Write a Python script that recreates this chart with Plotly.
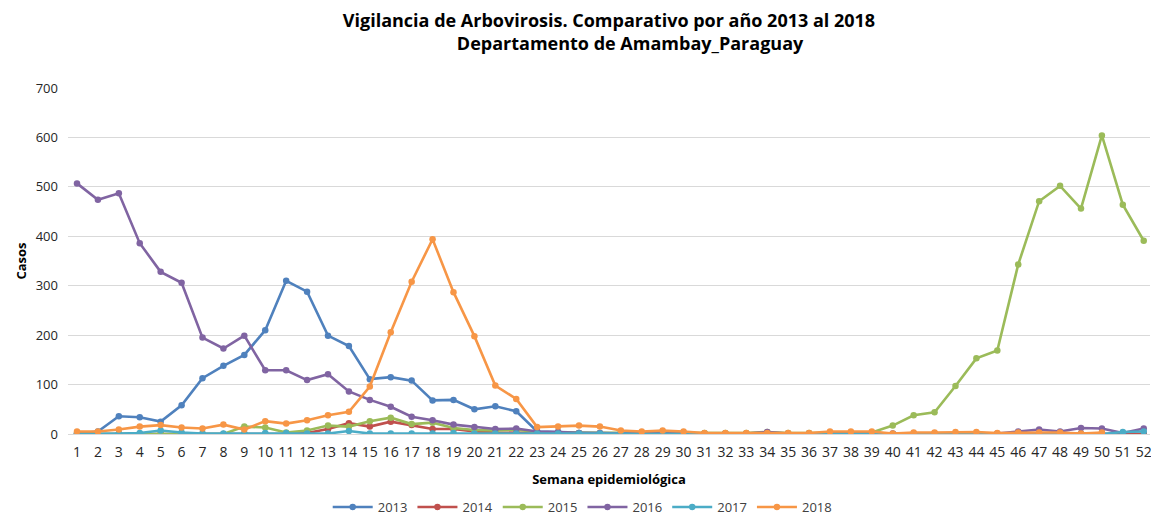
import plotly.graph_objects as go

weeks = list(range(1, 53))

s2013 = [1, 5, 36, 34, 25, 58, 113, 138, 160, 210, 310, 288, 199, 178, 111, 115, 108, 68, 69, 50,
         56, 46, 5, 4, 2, 1, 0, 0, 0, 0, 0, 0, 0, 0, 0, 0, 0, 0, 0, 0,
         0, 0, 0, 0, 0, 0, 0, 0, 0, 0, 0, 0]
s2014 = [0, 0, 0, 0, 0, 0, 0, 0, 0, 0, 0, 2, 10, 22, 15, 25, 18, 10, 10, 5,
         3, 3, 2, 1, 1, 1, 0, 0, 0, 0, 0, 0, 0, 0, 0, 0, 0, 0, 0, 0,
         0, 0, 0, 0, 0, 0, 0, 0, 0, 0, 0, 0]
s2015 = [0, 0, 0, 0, 0, 0, 0, 0, 15, 13, 3, 7, 17, 15, 26, 33, 20, 23, 12, 8,
         7, 9, 3, 3, 2, 2, 2, 2, 2, 2, 2, 2, 2, 4, 2, 2, 3, 3, 3, 17,
         38, 44, 97, 153, 169, 343, 471, 502, 456, 604, 464, 391]
s2016 = [507, 474, 487, 386, 328, 306, 195, 173, 199, 129, 129, 109, 121, 86, 69, 55, 35, 28, 19, 14,
         10, 11, 5, 4, 2, 2, 1, 1, 1, 1, 1, 1, 1, 4, 1, 1, 1, 1, 1, 1,
         1, 1, 1, 1, 1, 5, 9, 5, 12, 11, 2, 11]
s2017 = [0, 0, 1, 2, 7, 3, 1, 1, 1, 2, 2, 1, 1, 6, 1, 1, 1, 1, 2, 1,
         1, 1, 1, 1, 1, 1, 1, 0, 0, 0, 0, 0, 0, 0, 0, 0, 0, 0, 0, 0,
         0, 0, 0, 0, 0, 0, 0, 0, 0, 0, 4, 5]
s2018 = [5, 5, 9, 15, 18, 13, 11, 19, 9, 26, 21, 28, 38, 45, 96, 206, 308, 394, 287, 198,
         98, 71, 14, 15, 17, 15, 7, 5, 7, 5, 2, 2, 2, 2, 2, 2, 5, 5, 5, 1,
         3, 3, 4, 4, 2, 3, 3, 3, 1, 3, None, None]

series_names = ["2013", "2014", "2015", "2016", "2017", "2018"]
series_values = [s2013, s2014, s2015, s2016, s2017, s2018]
colors = ["#4F81BD", "#C0504D", "#9BBB59", "#8064A2", "#4BACC6", "#F79646"]

FONT = "Open Sans"
W, H = 1151, 522

fig = go.Figure()
for name, vals, col in zip(series_names, series_values, colors):
    fig.add_trace(go.Scatter(
        x=weeks, y=vals, name=name, mode="lines+markers",
        line=dict(color=col, width=2.6),
        marker=dict(color=col, size=6.5),
        connectgaps=False,
    ))

nb = "\u00a0" * 9
fig.update_layout(
    width=W, height=H,
    paper_bgcolor="white", plot_bgcolor="white",
    margin=dict(l=68, r=1, t=88, b=88, autoexpand=False),
    title=dict(
        text="<b>Vigilancia de Arbovirosis. Comparativo por año 2013 al 2018</b><br><b>" + nb + "Departamento de Amambay_Paraguay</b>",
        x=609 / W, xanchor="center", y=1 - 27 / H, yanchor="top",
        font=dict(family=FONT, size=18, color="#000000"),
    ),
    font=dict(family=FONT, size=13, color="#404040"),
    showlegend=True,
    legend=dict(
        orientation="h", x=547 / W, xanchor="center", y=-0.02, yanchor="bottom",
        yref="container", font=dict(family=FONT, size=13, color="#404040"),
        itemwidth=40, tracegroupgap=0,
    ),
    hovermode=False,
)
fig.update_xaxes(
    range=[0.57, 52.3], tickmode="array", tickvals=weeks, ticktext=[str(w) for w in weeks],
    showgrid=False, zeroline=False, showline=False, ticks="", automargin=False,
    ticklabelstandoff=8, ticklabeloverflow="allow",
    tickfont=dict(family=FONT, size=14, color="#262626"),
    title=dict(text="<b>Semana epidemiológica</b>", font=dict(family=FONT, size=13, color="#000000"), standoff=14),
)
fig.update_yaxes(
    range=[0, 700], dtick=100, showgrid=True, gridcolor="#D9D9D9", gridwidth=1,
    zeroline=True, zerolinecolor="#D9D9D9", zerolinewidth=1, showline=False, ticks="",
    automargin=False, ticklabelstandoff=9,
    tickfont=dict(family=FONT, size=13, color="#262626"),
    title=dict(text="<b>Casos</b>", font=dict(family=FONT, size=13, color="#000000"), standoff=6),
)

fig.write_html(
    "out.html",
    config={"displayModeBar": False},
    post_script="document.body.style.margin='0px';document.body.style.overflow='hidden';",
)
